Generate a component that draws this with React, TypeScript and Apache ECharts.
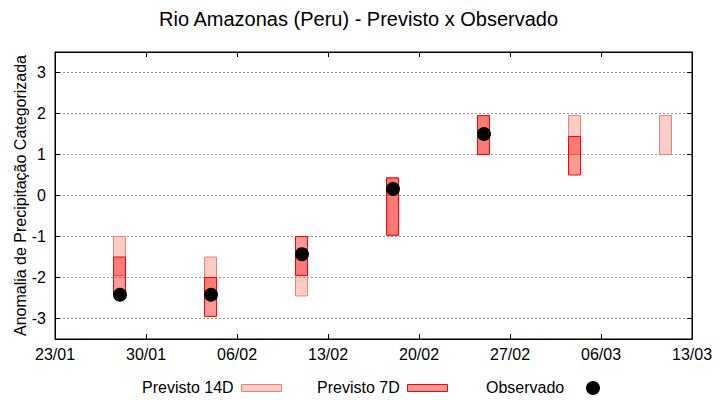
import React, { useEffect, useRef } from "react";
import * as echarts from "echarts";

const TITLE = "Rio Amazonas (Peru) - Previsto x Observado";
const Y_NAME = "Anomalia de Precipitação Categorizada";
const X_TICK_LABELS = ["23/01", "30/01", "06/02", "13/02", "20/02", "27/02", "06/03", "13/03"];
const Y_TICKS = [-3, -2, -1, 0, 1, 2, 3];

const DATES = ["28/01", "04/02", "11/02", "18/02", "25/02", "04/03", "11/03"];
const F14_HI = [-1.0, -1.5, -1.5, 0.43, 1.95, 1.95, 1.95];
const F14_LO = [-1.95, -2.4, -2.45, -0.97, 1.0, 1.0, 1.0];
const F7_HI: (number | null)[] = [-1.5, -2.0, -1.0, 0.43, 1.95, 1.44, null];
const F7_LO: (number | null)[] = [-2.4, -2.95, -1.95, -0.97, 1.0, 0.5, null];
const OBS: (number | null)[] = [-2.42, -2.42, -1.43, 0.16, 1.5, null, null];

const LEGEND = ["Previsto 14D", "Previsto 7D", "Observado"];

const MONTH_START = [0, 31, 59, 90, 120, 151, 181, 212, 243, 273, 304, 334];
const dayOfYear = (s: string) => {
  const [d, m] = s.split("/").map(Number);
  return MONTH_START[m - 1] + d;
};
const ORIGIN = dayOfYear(X_TICK_LABELS[0]);
const toDay = (s: string) => dayOfYear(s) - ORIGIN;

const FONT = "Liberation Sans, Arial, sans-serif";

export default function App() {
  const ref = useRef<HTMLDivElement>(null);
  useEffect(() => {
    if (!ref.current) return;
    const chart = echarts.init(ref.current, null, { renderer: "svg" });

    const d14 = DATES.map((d, i) => [toDay(d), F14_LO[i], F14_HI[i]]);
    const d7 = DATES.map((d, i) => (F7_HI[i] == null ? null : [toDay(d), F7_LO[i], F7_HI[i]])).filter(Boolean);
    const dObs = DATES.map((d, i) => (OBS[i] == null ? null : [toDay(d), OBS[i]])).filter(Boolean);

    const makeRender = (fill: string, stroke: string) => (params: any, api: any) => {
      const x = api.value(0);
      const lo = api.value(1);
      const hi = api.value(2);
      const p1 = api.coord([x, hi]);
      const p2 = api.coord([x, lo]);
      const w = 12;
      return {
        type: "rect",
        shape: { x: Math.round(p1[0] - w / 2) - 0.5, y: p1[1], width: w, height: p2[1] - p1[1] },
        style: { fill, stroke, lineWidth: 1 },
      };
    };

    const axisLine = { show: true, onZero: false, lineStyle: { color: "#000", width: 1 } };
    const xTick = { show: true, inside: true, length: 5, lineStyle: { color: "#000" } };
    const yTick = { show: true, inside: true, length: 5, customValues: Y_TICKS, lineStyle: { color: "#000" } };

    const option: any = {
      animation: false,
      backgroundColor: "#fff",
      grid: { left: 55, right: 28, top: 52, bottom: 61, show: true, borderColor: "#000", borderWidth: 1, backgroundColor: "transparent" },
      xAxis: [
        {
          type: "value",
          min: 0,
          max: 49,
          interval: 7,
          position: "bottom",
          axisLine,
          axisTick: xTick,
          splitLine: { show: false },
          axisLabel: {
            margin: 7,
            fontSize: 16,
            fontFamily: FONT,
            color: "#000",
            formatter: (v: number) => X_TICK_LABELS[Math.round(v / 7)] ?? "",
          },
        },
        {
          type: "value",
          min: 0,
          max: 49,
          interval: 7,
          position: "top",
          axisLine,
          axisTick: xTick,
          splitLine: { show: false },
          axisLabel: { show: false },
        },
      ],
      yAxis: [
        {
          type: "value",
          min: -3.5,
          max: 3.5,
          position: "left",
          axisLine,
          axisLabel: {
            margin: 9,
            fontSize: 16,
            fontFamily: FONT,
            color: "#000",
            customValues: Y_TICKS,
          },
          axisTick: yTick,
          splitLine: { show: true, lineStyle: { color: "#999", type: [2, 2], width: 1 } },
          name: Y_NAME,
          nameLocation: "middle",
          nameGap: 27,
          nameMoveOverlap: false,
          nameTextStyle: { fontSize: 16, fontFamily: FONT, color: "#000" },
        },
        {
          type: "value",
          min: -3.5,
          max: 3.5,
          position: "right",
          axisLine,
          axisTick: yTick,
          axisLabel: { show: false },
          splitLine: { show: false },
        },
      ],
      series: [
        {
          name: LEGEND[0],
          type: "custom",
          xAxisIndex: 0,
          yAxisIndex: 0,
          renderItem: makeRender("rgba(250,128,114,0.4)", "#f08070"),
          encode: { x: 0, y: [1, 2] },
          data: d14,
          z: 2,
        },
        {
          name: LEGEND[1],
          type: "custom",
          xAxisIndex: 0,
          yAxisIndex: 0,
          renderItem: makeRender("rgba(255,0,0,0.4)", "#ff0000"),
          encode: { x: 0, y: [1, 2] },
          data: d7,
          z: 3,
        },
        {
          name: LEGEND[2],
          type: "scatter",
          xAxisIndex: 0,
          yAxisIndex: 0,
          symbol: "circle",
          symbolSize: 14,
          itemStyle: { color: "#000", opacity: 1 },
          data: dObs,
          z: 4,
        },
      ],
      graphic: [
        {
          type: "text",
          left: 372 - 213,
          top: 9,
          style: { text: TITLE, font: `20px ${FONT}`, fill: "#000" },
        },
        { type: "text", x: 142, y: 387, style: { text: LEGEND[0], font: `16px ${FONT}`, fill: "#000", verticalAlign: "middle" } },
        { type: "rect", shape: { x: 241.5, y: 384.5, width: 40, height: 7 }, style: { fill: "rgba(250,128,114,0.4)", stroke: "#f08070", lineWidth: 1 } },
        { type: "text", x: 317, y: 387, style: { text: LEGEND[1], font: `16px ${FONT}`, fill: "#000", verticalAlign: "middle" } },
        { type: "rect", shape: { x: 407.5, y: 384.5, width: 40, height: 7 }, style: { fill: "rgba(255,0,0,0.4)", stroke: "#ff0000", lineWidth: 1 } },
        { type: "text", x: 486, y: 387, style: { text: LEGEND[2], font: `16px ${FONT}`, fill: "#000", verticalAlign: "middle" } },
        { type: "circle", shape: { cx: 593, cy: 388, r: 7 }, style: { fill: "#000" } },
      ],
    };
    chart.setOption(option);
    return () => chart.dispose();
  }, []);
  return <div ref={ref} style={{ position: "fixed", left: 0, top: 0, width: 720, height: 400 }} />;
}
